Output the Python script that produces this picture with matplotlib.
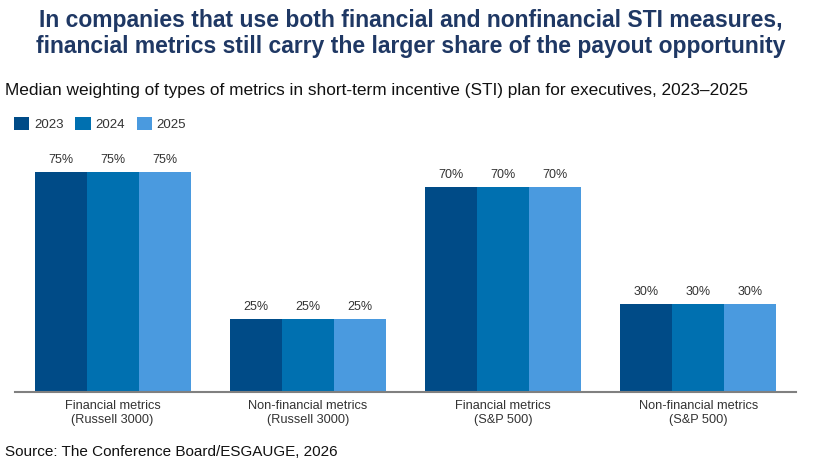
import numpy as np
import matplotlib.pyplot as plt
from matplotlib.patches import Patch

plt.rcParams['font.family'] = ['Liberation Sans', 'DejaVu Sans']

# chart data
categories = ['Financial metrics\n(Russell 3000)', 'Non-financial metrics\n(Russell 3000)',
              'Financial metrics\n(S&P 500)', 'Non-financial metrics\n(S&P 500)']
years = ['2023', '2024', '2025']
values_2023 = [75, 25, 70, 30]
values_2024 = [75, 25, 70, 30]
values_2025 = [75, 25, 70, 30]
series = [values_2023, values_2024, values_2025]
colors = ['#004B87', '#0070B0', '#4A9ADF']

W, H = 822, 465
fig = plt.figure(figsize=(W / 100, H / 100), dpi=100)

# axes placed in pixel terms
left, right, top, bottom = 15, 796, 140, 392
ax = fig.add_axes([left / W, 1 - bottom / H, (right - left) / W, (bottom - top) / H])

x = np.arange(len(categories))
width = 52 / 195
for i, (vals, col) in enumerate(zip(series, colors)):
    bars = ax.bar(x + (i - 1) * width, vals, width, color=col, label=years[i])
    for b, v in zip(bars, vals):
        ax.text(b.get_x() + b.get_width() / 2, v + 2.1, f'{v}%', ha='center', va='bottom',
                fontsize=9, color='#333333')

ax.set_xlim(-0.5, 3.5)
ax.set_ylim(0, 86)
ax.set_yticks([])
ax.set_xticks(x)
ax.set_xticklabels(categories, fontsize=9.2, color='#333333')
ax.tick_params(axis='x', length=0, pad=6)
for s in ['top', 'right', 'left']:
    ax.spines[s].set_visible(False)
ax.spines['bottom'].set_color('#808080')
ax.spines['bottom'].set_linewidth(1.5)

# titles
fig.text(0.5, 1 - 21 / H, 'In companies that use both financial and nonfinancial STI measures,',
         ha='center', va='center', fontsize=16.5, fontweight='bold', color='#1F3864')
fig.text(0.5, 1 - 47 / H, 'financial metrics still carry the larger share of the payout opportunity',
         ha='center', va='center', fontsize=16.5, fontweight='bold', color='#1F3864')
fig.text(5 / W, 1 - 91 / H,
         'Median weighting of types of metrics in short-term incentive (STI) plan for executives, 2023\u20132025',
         ha='left', va='center', fontsize=12.4, color='#111111')

handles = [Patch(facecolor=c, label=y) for c, y in zip(colors, years)]
fig.legend(handles=handles, loc='center left', bbox_to_anchor=(9 / W, 1 - 124 / H), ncol=3,
           frameon=False, fontsize=9.5, handlelength=1.15, handleheight=1.15,
           handletextpad=0.35, columnspacing=0.9, borderaxespad=0, labelcolor='#333333')

fig.text(5 / W, 1 - 452 / H, 'Source: The Conference Board/ESGAUGE, 2026',
         ha='left', va='center', fontsize=11, color='#111111')

fig.savefig('out.png', dpi=100)
